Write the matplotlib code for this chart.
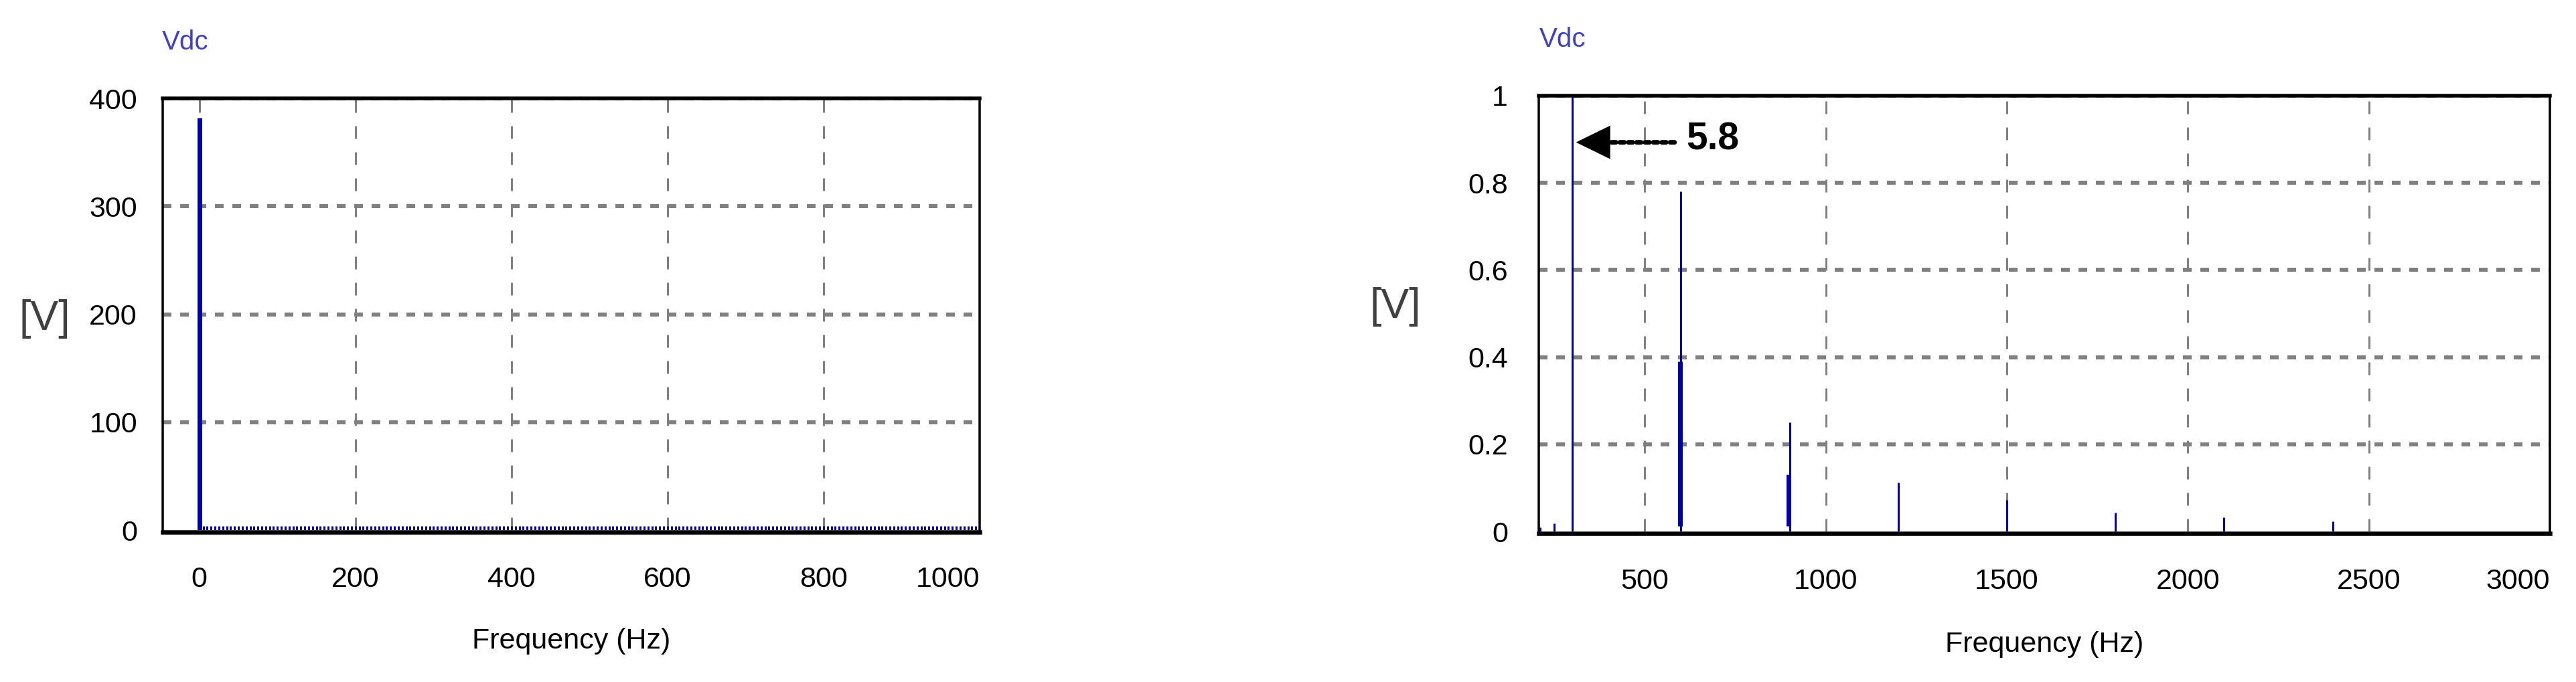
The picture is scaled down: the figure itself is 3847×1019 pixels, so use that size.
import numpy as np
import matplotlib
matplotlib.use("Agg")
import matplotlib.pyplot as plt

plt.rcParams['lines.scale_dashes'] = False

# ---------------- data ----------------
# Left panel: DC spectrum of Vdc (0 - 1000 Hz)
left_dc_freq = [0]
left_dc_amp = [382]
left_noise_step_hz = 5          # spacing of the small comb lines
left_noise_level_v = 3.7        # height of the small comb lines
left_xticks = [0, 200, 400, 600, 800, 1000]
left_yticks = [0, 100, 200, 300, 400]

# Right panel: harmonic spectrum of Vdc, zoomed to 0..1 V
right_freq = [210, 250, 300, 600, 900, 1200, 1500, 1800, 2100, 2400]
right_amp = [0.009, 0.019, 5.8, 0.78, 0.25, 0.112, 0.072, 0.043, 0.033, 0.023]
right_side_freq = [597, 897]
right_side_amp = [0.39, 0.13]
right_xticks = [500, 1000, 1500, 2000, 2500, 3000]
right_yticks = [0, 0.2, 0.4, 0.6, 0.8, 1]
right_ytick_labels = ['0', '0.2', '0.4', '0.6', '0.8', '1']
peak_label = '5.8'

# ---------------- style ----------------
PX = 0.72  # points per pixel at dpi 100
BLUE = '#0000a8'
GRID = '#808080'
NARROW = ['Liberation Sans Narrow', 'Liberation Sans', 'DejaVu Sans']
TICK_FS = 31

fig = plt.figure(figsize=(38.48, 10.19), dpi=100)
W, H = 3848, 1019


def px_axes(x0, y0, x1, y1):
    return fig.add_axes([x0 / W, 1 - y1 / H, (x1 - x0) / W, (y1 - y0) / H])


def style_axes(ax, ypad, xpad):
    ax.set_axisbelow(True)
    ax.xaxis.grid(True, color=GRID, linewidth=3 * PX, linestyle=(0, (19 * PX, 20 * PX)))
    ax.yaxis.grid(True, color=GRID, linewidth=6 * PX, linestyle=(0, (13 * PX, 13 * PX)))
    ax.get_ygridlines()[0].set_visible(False)
    ax.spines['top'].set_linewidth(5.5 * PX)
    ax.spines['bottom'].set_linewidth(6.5 * PX)
    ax.spines['bottom'].set_position(('outward', 3.2 * PX))
    ax.spines['left'].set_linewidth(3.5 * PX)
    ax.spines['right'].set_linewidth(3.5 * PX)
    for s in ax.spines.values():
        s.set_zorder(5)
    ax.tick_params(axis='both', length=0, labelsize=TICK_FS)
    ax.tick_params(axis='y', pad=ypad)
    ax.tick_params(axis='x', pad=xpad)
    for lab in ax.get_xticklabels() + ax.get_yticklabels():
        lab.set_family(NARROW)
    xl = ax.get_xticklabels()
    xl[-1].set_horizontalalignment('right')


# ---------------- left panel ----------------
axL = px_axes(243, 147, 1463, 792)
noise_freq = np.arange(left_noise_step_hz, left_xticks[-1] + 1, left_noise_step_hz)
axL.vlines(noise_freq, 0, left_noise_level_v, color=BLUE, linewidth=3 * PX)
axL.vlines(left_dc_freq, 0, left_dc_amp, color=BLUE, linewidth=7 * PX)
axL.set_xlim(-47, 1000)
axL.set_ylim(0, 400)
axL.set_xticks(left_xticks, [str(t) for t in left_xticks])
axL.set_yticks(left_yticks, [str(t) for t in left_yticks])
style_axes(axL, ypad=38 * PX, xpad=51 * PX)

# ---------------- right panel ----------------
axR = px_axes(2298, 143, 3808, 794)
axR.vlines(right_side_freq, 0.013, right_side_amp, color=BLUE, linewidth=7 * PX)
axR.vlines(right_freq, 0, right_amp, color=BLUE, linewidth=3 * PX)
axR.set_xlim(207, 3000)
axR.set_ylim(0, 1)
axR.set_xticks(right_xticks, [str(t) for t in right_xticks])
axR.set_yticks(right_yticks, right_ytick_labels)
style_axes(axR, ypad=46 * PX, xpad=52 * PX)

# annotation: arrow pointing to the clipped 300 Hz line
arrow_y = 0.893
axR.annotate('', xy=(405, arrow_y), xytext=(582, arrow_y),
             arrowprops=dict(arrowstyle='-', color='black', linewidth=7 * PX,
                             linestyle=(0, (6.5 * PX, 6 * PX)),
                             shrinkA=0, shrinkB=0), zorder=6)
axR.annotate('', xy=(310, arrow_y), xytext=(405, arrow_y),
             arrowprops=dict(arrowstyle='-|>,head_length=%f,head_width=%f' % (51 * PX, 25 * PX),
                             color='black', linewidth=0, mutation_scale=1,
                             shrinkA=0, shrinkB=0), zorder=6)
axR.text(614, 0.9, peak_label, fontsize=41, fontweight='bold',
         family=['Liberation Sans', 'DejaVu Sans'], ha='left', va='center', zorder=6)

# ---------------- figure texts ----------------
for cx, cy in [(853, 958), (3053, 963)]:
    fig.text(cx / W, 1 - cy / H, 'Frequency (Hz)', fontsize=31, family=NARROW,
             ha='center', va='center', color='black')
for cx, cy in [(67, 477), (2084, 459)]:
    fig.text(cx / W, 1 - cy / H, '[V]', fontsize=45, family=['Liberation Sans', 'DejaVu Sans'],
             ha='center', va='center', color='#404040')
for lx, cy in [(242, 63), (2299, 59)]:
    fig.text(lx / W, 1 - cy / H, 'Vdc', fontsize=29, family=NARROW,
             ha='left', va='center', color='#4040c0')

fig.savefig('out.png', dpi=100, facecolor='white')
